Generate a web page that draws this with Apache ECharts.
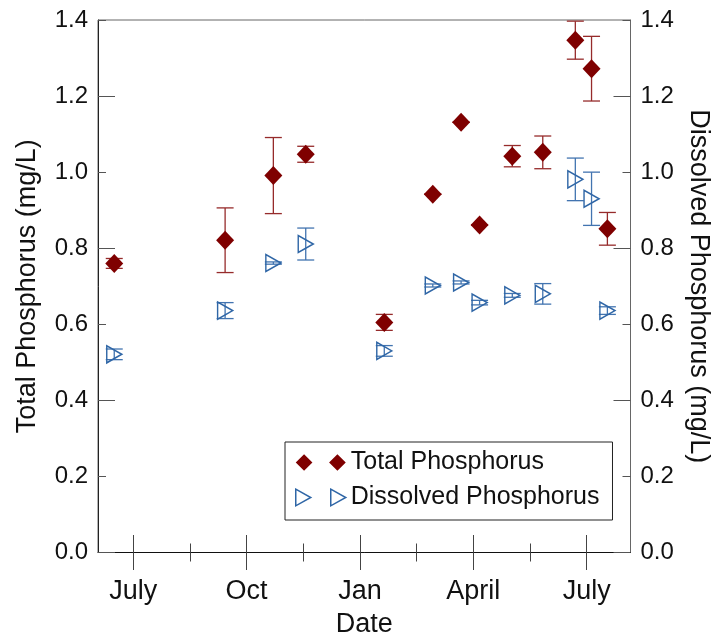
<!DOCTYPE html>
<html>
<head>
<meta charset="utf-8">
<script src="https://cdn.jsdelivr.net/npm/echarts@6/dist/echarts.min.js"></script>
<style>
  html, body { margin: 0; padding: 0; background: #fff; }
  #chart { width: 711px; height: 636px; }
</style>
</head>
<body>
<div id="chart"></div>
<script>
// sampling dates (same for both series)
var sampleDates = ['2014-06-16', '2014-09-14', '2014-10-23', '2014-11-18', '2015-01-21', '2015-02-27',
    '2015-03-22', '2015-04-06', '2015-05-02', '2015-05-27', '2015-06-22', '2015-07-05', '2015-07-18'];
var totalP = [0.760, 0.821, 0.991, 1.047, 0.605, 0.942, 1.131, 0.861, 1.042, 1.052, 1.347, 1.272, 0.851];
var totalErr = [0.013, 0.085, 0.100, 0.021, 0.021, 0, 0, 0, 0.028, 0.043, 0.050, 0.085, 0.043];
var dissolvedP = [0.521, 0.636, 0.761, 0.811, 0.530, 0.702, 0.710, 0.657, 0.676, 0.680, 0.981, 0.930, 0.636];
var dissolvedErr = [0.014, 0.021, 0.003, 0.042, 0.014, 0.004, 0.004, 0.006, 0.005, 0.027, 0.056, 0.070, 0.010];

// x axis in months counted from July 1, 2014
var monthLabelValues = [0, 3, 6, 9, 12];
var monthLabels = ['July', 'Oct', 'Jan', 'April', 'July'];
var minorTickValues = [1.5, 4.5, 7.5, 10.5];
var xMin = -0.93, xMax = 13.16;
var yMajorTicks = [0, 0.4, 0.8, 1.2];
var yMinorTicks = [0.2, 0.6, 1.0, 1.4];

var FONT = "'Liberation Sans', Arial, sans-serif";
var TP_COLOR = '#7f0000';
var TP_BAR = '#962b2b';
var DP_COLOR = '#2f66a6';
var DP_BAR = '#4274b0';

function toMonth(s) {
    var p = s.split('-').map(Number);
    var days = new Date(p[0], p[1], 0).getDate();
    return (p[0] - 2014) * 12 + (p[1] - 7) + (p[2] - 1) / days;
}

var tpData = [], dpData = [], tpBars = [], dpBars = [];
for (var i = 0; i < sampleDates.length; i++) {
    var m = toMonth(sampleDates[i]);
    tpData.push([m, totalP[i]]);
    dpData.push([m, dissolvedP[i]]);
    tpBars.push([m, totalP[i], totalErr[i]]);
    dpBars.push([m, dissolvedP[i], dissolvedErr[i]]);
}

function errorBars(color) {
    return function (params, api) {
        var x = api.value(0), y = api.value(1), e = api.value(2);
        var top = api.coord([x, y + e]);
        var bot = api.coord([x, y - e]);
        var hw = 8.5;
        var st = {stroke: color, lineWidth: 1.3};
        return {
            type: 'group',
            children: [
                {type: 'line', shape: {x1: top[0], y1: top[1], x2: bot[0], y2: bot[1]}, style: st},
                {type: 'line', shape: {x1: top[0] - hw, y1: top[1], x2: top[0] + hw, y2: top[1]}, style: st},
                {type: 'line', shape: {x1: bot[0] - hw, y1: bot[1], x2: bot[0] + hw, y2: bot[1]}, style: st}
            ]
        };
    };
}

function xAxisDef(tickValues, inside, len, main) {
    return {
        type: 'value', min: xMin, max: xMax, position: 'bottom',
        name: main ? 'Date' : '', nameLocation: 'middle', nameGap: 59,
        nameTextStyle: {fontFamily: FONT, fontSize: 27, color: '#111'},
        axisLine: {show: !!main, onZero: false, lineStyle: {color: '#111', width: 1}},
        axisTick: {show: true, inside: inside, length: len, customValues: tickValues,
            lineStyle: {color: '#444', width: 1}},
        axisLabel: main ? {show: true, customValues: monthLabelValues, margin: 26,
            fontFamily: FONT, fontSize: 27, color: '#111',
            formatter: function (v) { return monthLabels[monthLabelValues.indexOf(Math.round(v))] || ''; }}
            : {show: false},
        splitLine: {show: false}
    };
}

function yAxisDef(pos, tickValues, len, main, name) {
    return {
        type: 'value', min: 0, max: 1.4, interval: 0.2, position: pos,
        name: main ? name : '', nameLocation: 'middle',
        nameGap: pos === 'left' ? 57 : 49, nameRotate: pos === 'left' ? 90 : -90,
        nameTextStyle: {fontFamily: FONT, fontSize: 27, color: '#111'},
        axisLine: {show: !!main, onZero: false, lineStyle: {color: pos === 'left' ? '#222' : '#666', width: 1}},
        axisTick: {show: true, inside: true, length: len, customValues: tickValues,
            lineStyle: {color: '#555', width: 1}},
        axisLabel: main ? {show: true, margin: 10, fontFamily: FONT, fontSize: 24, color: '#111',
            formatter: function (v) { return v.toFixed(1); }} : {show: false},
        splitLine: {show: false}
    };
}

var myChart = echarts.init(document.getElementById('chart'), null, {renderer: 'canvas'});
var option = {
    animation: false,
    backgroundColor: '#fff',
    grid: {left: 98, right: 80.5, top: 20, bottom: 83.5, show: true, outerBoundsMode: 'none',
        borderColor: '#666', borderWidth: 1, backgroundColor: 'transparent'},
    legend: {
        left: 285, top: 442, orient: 'vertical',
        padding: [8, 13, 10, 10], itemGap: 10,
        itemWidth: 50, itemHeight: 17,
        borderColor: '#222', borderWidth: 1, backgroundColor: '#fff',
        textStyle: {fontFamily: FONT, fontSize: 25, color: '#111'},
        data: [
            {name: 'Total Phosphorus', icon: 'path://M5,0L10,5L5,10L0,5Z M25,0L30,5L25,10L20,5Z',
                itemStyle: {color: TP_COLOR, opacity: 1}},
            {name: 'Dissolved Phosphorus', icon: 'path://M0,0L9,5L0,10Z M21,0L30,5L21,10Z',
                itemStyle: {color: 'rgba(0,0,0,0)', borderColor: DP_COLOR, borderWidth: 1.5, opacity: 1}}
        ]
    },
    xAxis: [
        xAxisDef(monthLabelValues, false, 17.5, true),
        xAxisDef(monthLabelValues, true, 17.5, false),
        xAxisDef(minorTickValues, false, 9, false),
        xAxisDef(minorTickValues, true, 9, false)
    ],
    yAxis: [
        yAxisDef('left', yMajorTicks, 17, true, 'Total Phosphorus (mg/L)'),
        yAxisDef('left', yMinorTicks, 8, false),
        yAxisDef('right', yMajorTicks, 17, true, 'Dissolved Phosphorus (mg/L)'),
        yAxisDef('right', yMinorTicks, 8, false)
    ],
    series: [
        {
            type: 'custom', name: 'tpErr', xAxisIndex: 0, yAxisIndex: 0, z: 2,
            renderItem: errorBars(TP_BAR), encode: {x: 0, y: 1}, data: tpBars, silent: true
        },
        {
            type: 'custom', name: 'dpErr', xAxisIndex: 0, yAxisIndex: 2, z: 2,
            renderItem: errorBars(DP_BAR), encode: {x: 0, y: 1}, data: dpBars, silent: true
        },
        {
            name: 'Total Phosphorus', type: 'scatter', xAxisIndex: 0, yAxisIndex: 0, z: 3,
            symbol: 'diamond', symbolSize: [18, 19],
            itemStyle: {color: TP_COLOR, opacity: 1},
            data: tpData
        },
        {
            name: 'Dissolved Phosphorus', type: 'scatter', xAxisIndex: 0, yAxisIndex: 2, z: 3,
            symbol: 'triangle', symbolSize: [17, 15], symbolRotate: -90,
            itemStyle: {color: 'rgba(0,0,0,0)', borderColor: DP_COLOR, borderWidth: 1.5, opacity: 1},
            data: dpData
        }
    ]
};
if (option && typeof option === "object") {
    myChart.setOption(option, true);
}
</script>
</body>
</html>
